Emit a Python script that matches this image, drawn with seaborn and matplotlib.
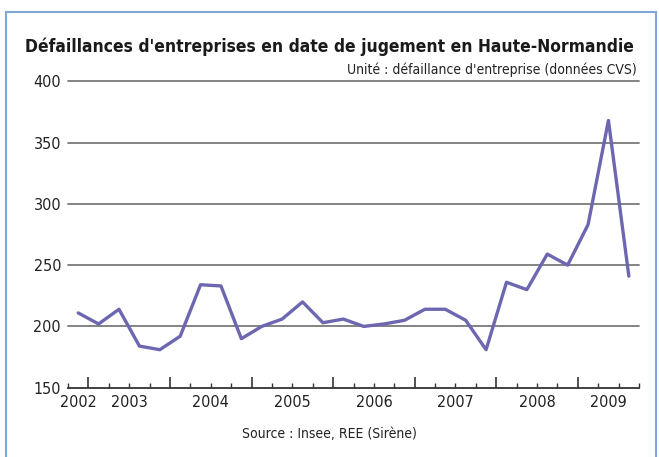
import numpy as np
import pandas as pd
import matplotlib
matplotlib.use("Agg")
import matplotlib.pyplot as plt
import matplotlib.patches as mpatches
import seaborn as sns

# quarterly data, 2002 T4 -> 2009 T3
quarters = ["2002T4",
            "2003T1", "2003T2", "2003T3", "2003T4",
            "2004T1", "2004T2", "2004T3", "2004T4",
            "2005T1", "2005T2", "2005T3", "2005T4",
            "2006T1", "2006T2", "2006T3", "2006T4",
            "2007T1", "2007T2", "2007T3", "2007T4",
            "2008T1", "2008T2", "2008T3", "2008T4",
            "2009T1", "2009T2", "2009T3"]
defaillances = [211, 202, 214, 184, 181, 192, 234, 233,
                190, 200, 206, 220, 203, 206, 200, 202,
                205, 214, 214, 205, 181, 236, 230, 259,
                250, 283, 368, 241]
years = ["2002", "2003", "2004", "2005", "2006", "2007", "2008", "2009"]
yticks = [150, 200, 250, 300, 350, 400]

df = pd.DataFrame({"quarter": quarters, "value": defaillances})
df["pos"] = np.arange(len(df))
df["year"] = df["quarter"].str[:4]

sns.set_theme(style="white")
plt.rcParams['font.family'] = ['DejaVu Sans']
plt.rcParams['font.stretch'] = 'condensed'

fig = plt.figure(figsize=(6.59, 4.57), dpi=100)
ax = fig.add_axes([0.1032, 0.1516, 0.8665, 0.6707])

# light blue frame around the figure
frame = mpatches.Rectangle((6 / 659, -0.05), 650 / 659, 1 - 12 / 457 + 0.05,
                           transform=fig.transFigure, fill=False,
                           edgecolor='#7ea6d6', linewidth=1.5)
fig.patches.append(frame)

for v in yticks[1:]:
    ax.axhline(v, color='#7a7a7a', linewidth=1.3, zorder=1, clip_on=False)

sns.lineplot(data=df, x="pos", y="value", color='#6c67b0', linewidth=2.4, ax=ax, zorder=3)

ax.set_xlim(-0.5, len(df) - 0.5)
ax.set_ylim(150, 400)
ax.set_yticks(yticks)
ax.set_yticklabels([str(v) for v in yticks], fontsize=11.5, color='#222222')
ax.tick_params(axis='y', length=0, pad=5)

# year boundaries as long ticks, quarters as short ones
first_q = df.groupby("year")["pos"].min()
ax.set_xticks([p - 0.5 for p in first_q.values[1:]])
ax.set_xticks(np.arange(len(df) + 1) - 0.5, minor=True)
ax.set_xticklabels([])
ax.tick_params(axis='x', which='both', bottom=True)
ax.tick_params(axis='x', which='major', direction='in', length=8, width=1.2, color='#333333')
ax.tick_params(axis='x', which='minor', direction='in', length=3.5, width=1.0, color='#333333')
ax.set_xlabel("")
ax.set_ylabel("")

centers = df.groupby("year")["pos"].mean()
for y in years:
    ax.text(centers[y], -0.025, y, transform=ax.get_xaxis_transform(),
            ha='center', va='top', fontsize=11.5, color='#222222')

for side in ["top", "right", "left"]:
    ax.spines[side].set_visible(False)
ax.spines["bottom"].set_color('#333333')
ax.spines["bottom"].set_linewidth(1.3)

fig.text(0.5, 1 - 47 / 457, "Défaillances d'entreprises en date de jugement en Haute-Normandie",
         ha='center', va='center', fontsize=12.5, fontweight='bold', color='#1a1a1a')
fig.text(637 / 659, 1 - 70 / 457, "Unité : défaillance d'entreprise (données CVS)",
         ha='right', va='center', fontsize=10, color='#222222')
fig.text(329 / 659, 1 - 434 / 457, "Source : Insee, REE (Sirène)",
         ha='center', va='center', fontsize=10, color='#222222')

fig.savefig("out.png", dpi=100)
